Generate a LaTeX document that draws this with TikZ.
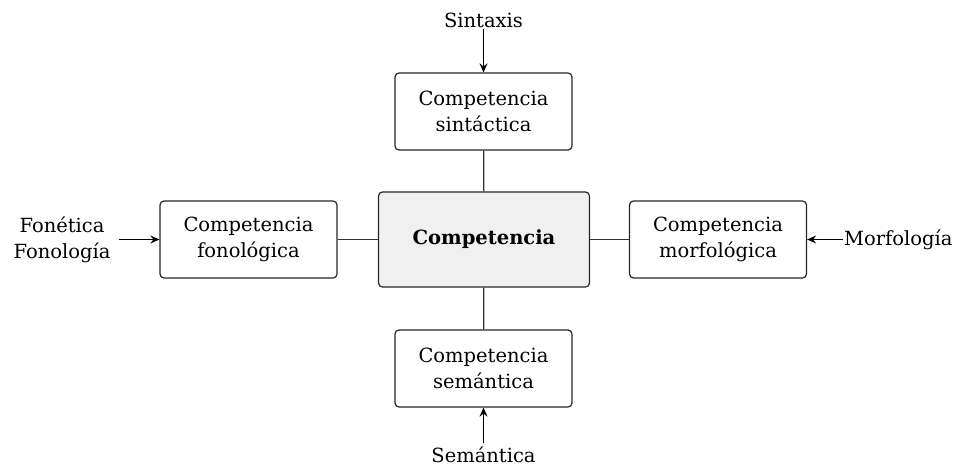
\documentclass[tikz,border=0pt]{standalone}
\usepackage{fontspec}
\setmainfont{DejaVu Serif}
\usetikzlibrary{arrows.meta}
\begin{document}
\begin{tikzpicture}[x=1pt,y=-1pt,
  every node/.style={font=\fontsize{19.5}{26}\selectfont},
  box/.style={draw=black!85, line width=1.2pt, rounded corners=4pt, minimum width=177pt, minimum height=77pt, align=center, inner sep=0pt},
  mainbox/.style={box, fill=black!6, minimum width=211pt, minimum height=95pt, font=\fontsize{19.5}{26}\selectfont\bfseries},
  lbl/.style={align=center, inner sep=1pt},
  link/.style={draw=black!80, line width=1.2pt},
  arr/.style={draw=black, line width=1.2pt, -{Stealth[length=9pt,width=8pt,inset=3pt]}}
]
\useasboundingbox (0,0) rectangle (958,468);
\node[mainbox] (c) at (484,239.5) {Competencia};
\node[box] (t) at (483.5,111.5) {Competencia\\sintáctica};
\node[box] (b) at (483.5,368.5) {Competencia\\semántica};
\node[box] (l) at (248.5,239.5) {Competencia\\fonológica};
\node[box] (r) at (718,239.5) {Competencia\\morfológica};
\node[lbl] (st) at (483.5,20) {Sintaxis};
\node[lbl, inner ysep=4pt] (sm) at (483.5,455) {Semántica};
\node[lbl, inner xsep=8pt] (fo) at (62,239.5) {Fonética\\Fonología};
\node[lbl, anchor=west] (mo) at (843,239.5) {Morfología};
\draw[link] (t) -- (c);
\draw[link] (b) -- (c);
\draw[link] (l) -- (c);
\draw[link] (r) -- (c);
\draw[arr] (st) -- (t);
\draw[arr] (sm) -- (b);
\draw[arr] (fo) -- (l);
\draw[arr] (mo) -- (r);
\end{tikzpicture}
\end{document}
